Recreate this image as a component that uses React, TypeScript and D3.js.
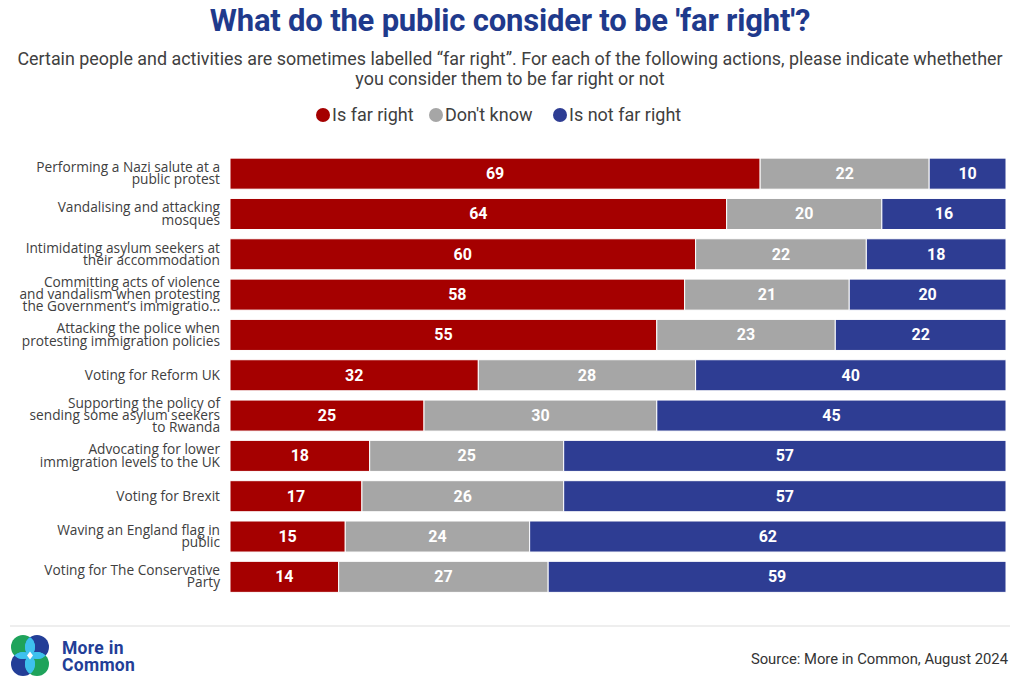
import React from "react";
import * as d3 from "d3";

const categories: string[][] = [
  ["Performing a Nazi salute at a", "public protest"],
  ["Vandalising and attacking", "mosques"],
  ["Intimidating asylum seekers at", "their accommodation"],
  ["Committing acts of violence", "and vandalism when protesting", "the Government’s immigratio..."],
  ["Attacking the police when", "protesting immigration policies"],
  ["Voting for Reform UK"],
  ["Supporting the policy of", "sending some asylum seekers", "to Rwanda"],
  ["Advocating for lower", "immigration levels to the UK"],
  ["Voting for Brexit"],
  ["Waving an England flag in", "public"],
  ["Voting for The Conservative", "Party"],
];
const isFarRight = [69, 64, 60, 58, 55, 32, 25, 18, 17, 15, 14];
const dontKnow = [22, 20, 22, 21, 23, 28, 30, 25, 26, 24, 27];
const isNotFarRight = [10, 16, 18, 20, 22, 40, 45, 57, 57, 62, 59];
const seriesNames = ["Is far right", "Don't know", "Is not far right"];
const seriesColors = ["#A50000", "#A6A6A6", "#2E3D93"];

const W = 1020;
const H = 690;
const FONT = "Roboto, 'Open Sans', sans-serif";

export default function App() {
  const rows = categories.map((c, i) => ({
    i,
    v: [isFarRight[i], dontKnow[i], isNotFarRight[i]],
  }));
  const y = d3
    .scaleBand<number>()
    .domain(rows.map((r) => r.i))
    .range([153.5, 597])
    .paddingInner(0.23)
    .paddingOuter(0.115);
  const x = d3.scaleLinear().domain([0, 1]).range([230, 1006]);

  const logoC = [
    { cx: 23, cy: 647, c: "#1FA35B" },
    { cx: 37, cy: 647, c: "#233E97" },
    { cx: 23, cy: 664, c: "#233E97" },
    { cx: 37, cy: 664, c: "#1FA35B" },
  ];
  const R = 12;
  const lcx = 30;
  const lcy = 655.5;

  return (
    <svg width={W} height={H} style={{ position: "absolute", left: 0, top: 0, background: "#fff" }} fontFamily={FONT}>
      <defs>
        {logoC.map((c, k) => (
          <clipPath id={`lc${k}`} key={k}>
            {logoC
              .filter((_, j) => j !== k)
              .map((o, j) => (
                <circle key={j} cx={o.cx} cy={o.cy} r={R} />
              ))}
          </clipPath>
        ))}
      </defs>
      <rect width={W} height={H} fill="#fff" />
      <text x={510} y={31} textAnchor="middle" fontSize={31} fontWeight={700} fill="#1F3A8C" letterSpacing={-0.2}>
        What do the public consider to be 'far right'?
      </text>
      <text x={510} y={65} textAnchor="middle" fontSize={17.9} fill="#404040">
        Certain people and activities are sometimes labelled “far right”. For each of the following actions, please indicate whethether
      </text>
      <text x={510} y={85} textAnchor="middle" fontSize={17.9} fill="#404040">
        you consider them to be far right or not
      </text>
      {(() => {
        const xs = [323, 436, 560];
        return seriesNames.map((n, k) => (
          <g key={n}>
            <circle cx={xs[k]} cy={115} r={7} fill={seriesColors[k]} />
            <text x={xs[k] + 9} y={121} fontSize={18} fill="#404040">
              {n}
            </text>
          </g>
        ));
      })()}
      {rows.map((r) => {
        const total = d3.sum(r.v);
        let acc = 0;
        const by = y(r.i)!;
        const bh = y.bandwidth();
        const lines = categories[r.i];
        const lh = 12.3;
        const cy = by + bh / 2;
        return (
          <g key={r.i}>
            {r.v.map((v, k) => {
              const x0 = x(acc / total);
              acc += v;
              const x1 = x(acc / total);
              return (
                <g key={k}>
                  <rect x={x0} y={by} width={x1 - x0} height={bh} fill={seriesColors[k]} stroke="#fff" strokeWidth={1} />
                  <text x={(x0 + x1) / 2} y={cy + 5.5} textAnchor="middle" fontSize={16} fontWeight={700} fill="#fff">
                    {v}
                  </text>
                </g>
              );
            })}
            {lines.map((l, j) => (
              <text
                key={j}
                x={220}
                y={cy + (j - (lines.length - 1) / 2) * lh + 4.5}
                textAnchor="end"
                fontSize={13.7}
                fontFamily="'Open Sans', sans-serif"
                fill="#404040"
              >
                {l}
              </text>
            ))}
          </g>
        );
      })}
      <line x1={10} x2={1010} y1={626} y2={626} stroke="#DDDDDD" strokeWidth={1} />
      {logoC.map((c, k) => (
        <circle key={`o${k}`} cx={c.cx} cy={c.cy} r={R} fill={c.c} />
      ))}
      {logoC.map((c, k) => (
        <circle key={`i${k}`} cx={c.cx} cy={c.cy} r={R} fill="#3EC1EE" clipPath={`url(#lc${k})`} />
      ))}
      <path
        d={`M${lcx},${lcy - 4} L${lcx + 3},${lcy} L${lcx},${lcy + 4} L${lcx - 3},${lcy} Z`}
        fill="#fff"
      />
      <text x={62} y={654} fontSize={17.5} fontWeight={700} fill="#233E97" letterSpacing={0.3}>
        More in
      </text>
      <text x={62} y={671} fontSize={17.5} fontWeight={700} fill="#233E97" letterSpacing={0.3}>
        Common
      </text>
      <text x={1008} y={664} textAnchor="end" fontSize={14.8} fill="#333">
        Source: More in Common, August 2024
      </text>
    </svg>
  );
}
